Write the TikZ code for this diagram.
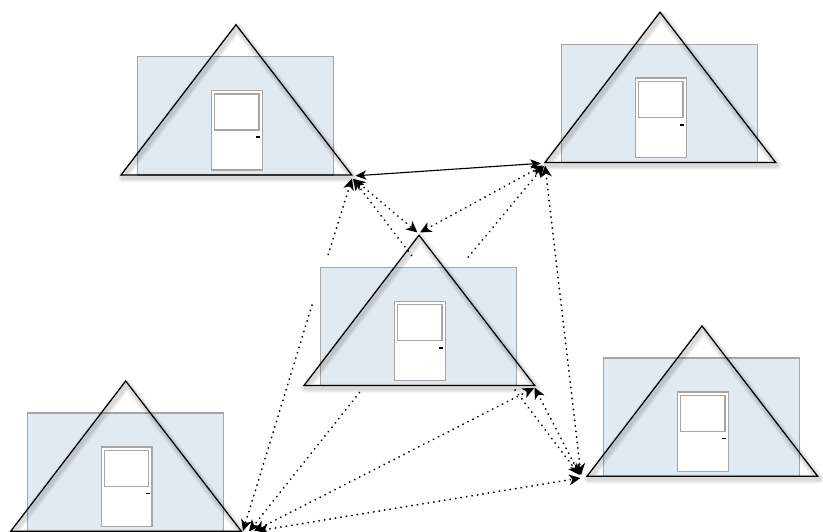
\documentclass[tikz,border=0pt]{standalone}
\usetikzlibrary{arrows.meta}
\definecolor{wallfill}{HTML}{E2EAF1}
\definecolor{wallline}{HTML}{A6A6A6}
\tikzset{
  x=0.75pt,y=-0.75pt,
  wall/.style={draw=wallline,fill=wallfill,line width=1pt},
  doorbox/.style={draw=wallline,fill=white,line width=1.05pt},
  roof/.style={draw=black,line width=0.95pt,line join=miter},
  halo/.style={draw=black,line join=round,opacity=0.04},
  link/.style={draw=black,line width=1.35pt,line cap=round,dash pattern=on 0.2pt off 3.95pt,-{Stealth[length=8.5pt,width=8pt,inset=2.4pt]}},
  linkboth/.style={link,{Stealth[length=8.5pt,width=8pt,inset=2.4pt]}-{Stealth[length=8.5pt,width=8pt,inset=2.4pt]}},
  linkback/.style={link,{Stealth[length=8.5pt,width=8pt,inset=2.4pt]}-},
  solidlink/.style={draw=black,line width=0.85pt,{Stealth[length=8pt,width=7pt,inset=2pt]}-{Stealth[length=8pt,width=7pt,inset=2pt]}},
  house/.pic={
    \path[wall] (-98.3,32) rectangle (97.7,150.3);
    \path[doorbox] (-24.3,66) rectangle (26.3,145.3);
    \path[doorbox] (-21.3,69.3) rectangle (23,105.3);
    \fill[black] (20,111.8) rectangle (24.2,113.4);
    \foreach \w in {7,5.5,4,2.5}{
      \draw[halo,line width=\w pt] (1.5,3) -- (117.2,153) -- (-113.5,153) -- cycle;
    }
    \draw[roof] (0,0) -- (115.7,150.3) -- (-115,150.3) -- cycle;
  }
}
\begin{document}
\begin{tikzpicture}
\useasboundingbox (0,0) rectangle (823,531);
\clip (0,0) rectangle (823,531);
\pic at (236,24.7) {house};
\pic at (660,12.2) {house};
\pic at (419,235.2) {house};
\pic at (702,326) {house};
\pic at (125.7,381) {house};
% endpoints
\coordinate (tlA) at (355.5,175.8);
\coordinate (trA) at (541,163.3);
\coordinate (tlB) at (354,179);
\coordinate (ctA) at (417.5,232.5);
\coordinate (ctB) at (420,232.5);
\coordinate (trB) at (543,165.5);
\coordinate (tlC) at (352,178.5);
\coordinate (tlC2) at (327.7,256);
\coordinate (blC2) at (312,305);
\coordinate (blC) at (243,531);
\coordinate (tlD) at (353,179);
\coordinate (tlD2) at (413.5,258);
\coordinate (rtD2) at (515,390);
\coordinate (rtD) at (579.5,475);
\coordinate (trE) at (544,166);
\coordinate (trE2) at (467.5,258);
\coordinate (blE2) at (359.5,392.5);
\coordinate (blE) at (249,531.5);
\coordinate (trF) at (545,165.5);
\coordinate (rtF) at (581,475);
\coordinate (ctC) at (534.5,387.5);
\coordinate (rtC) at (580,475);
\coordinate (ctD) at (534,388);
\coordinate (blD) at (254,531);
\coordinate (rtE) at (580.5,478);
\coordinate (blF) at (257,531);
% connectors
\draw[solidlink] (tlA) -- (trA);
\draw[linkboth] (tlB) -- (ctA);
\draw[linkboth] (ctB) -- (trB);
\draw[linkback] (tlC) -- (tlC2);
\draw[link] (blC2) -- (blC);
\draw[linkback] (tlD) -- (tlD2);
\draw[link] (rtD2) -- (rtD);
\draw[linkback] (trE) -- (trE2);
\draw[link] (blE2) -- (blE);
\draw[linkboth] (trF) -- (rtF);
\draw[linkboth] (ctC) -- (rtC);
\draw[linkboth] (ctD) -- (blD);
\draw[linkboth] (blF) -- (rtE);
\end{tikzpicture}
\end{document}
